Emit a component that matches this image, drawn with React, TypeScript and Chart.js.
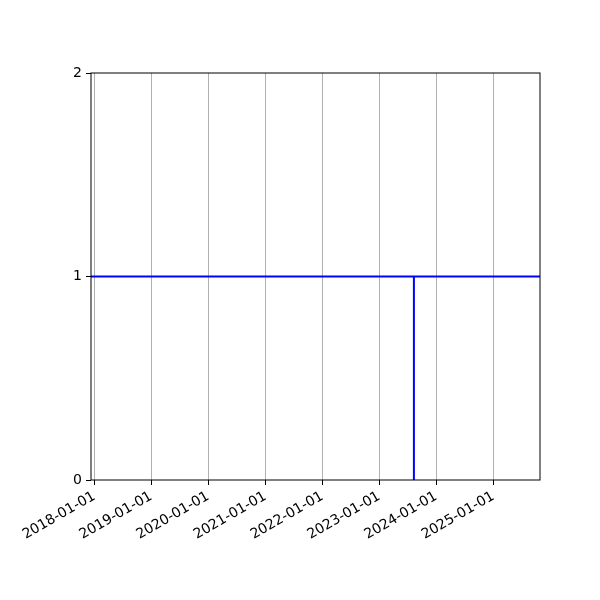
import { useEffect, useRef } from "react"
import { Chart, registerables } from "chart.js"

Chart.register(...registerables)

// x range shown and the yearly ticks
const xRange = ["2017-12-11", "2025-10-27"]
const yearTicks = ["2018-01-01", "2019-01-01", "2020-01-01", "2021-01-01", "2022-01-01", "2023-01-01", "2024-01-01", "2025-01-01"]
const yTicks = [0, 1, 2]

// level line across the whole period
const levelDates = ["2017-12-11", "2025-10-27"]
const levelValues = [1, 1]

// the drop to zero
const eventDates = ["2023-08-11", "2023-08-11"]
const eventValues = [0, 1]

const ms = (d: string) => Date.parse(d + "T00:00:00Z")
const fmt = (v: number) => new Date(v).toISOString().slice(0, 10)

// box around the plot area, like matplotlib spines
const frame = {
  id: "frame",
  afterDraw(chart: Chart) {
    const { ctx, chartArea: a } = chart
    ctx.save()
    ctx.strokeStyle = "black"
    ctx.lineWidth = 1
    ctx.strokeRect(a.left, a.top, a.right - a.left, a.bottom - a.top)
    ctx.restore()
  },
}

export default function App() {
  const chartRef = useRef<HTMLCanvasElement>(null)
  const chartInstance = useRef<Chart | null>(null)

  useEffect(() => {
    if (!chartRef.current) return
    if (chartInstance.current) chartInstance.current.destroy()
    const ctx = chartRef.current.getContext("2d")
    if (!ctx) return

    Chart.defaults.font.family = "'DejaVu Sans', sans-serif"
    Chart.defaults.font.size = 14
    Chart.defaults.color = "black"

    chartInstance.current = new Chart(ctx, {
      type: "line",
      data: {
        datasets: [
          {
            label: "level",
            data: levelDates.map((d, i) => ({ x: ms(d), y: levelValues[i] })),
            borderColor: "#0000ff",
            borderWidth: 2,
            pointRadius: 0,
            fill: false,
          },
          {
            label: "event",
            data: eventDates.map((d, i) => ({ x: ms(d), y: eventValues[i] })),
            borderColor: "#0000ff",
            borderWidth: 2,
            pointRadius: 0,
            fill: false,
          },
        ],
      },
      options: {
        animation: false,
        responsive: false,
        layout: { padding: { top: 73, right: 60, left: 0, bottom: 0 } },
        plugins: { legend: { display: false }, tooltip: { enabled: false } },
        scales: {
          x: {
            type: "linear",
            min: ms(xRange[0]),
            max: ms(xRange[1]),
            afterBuildTicks: (scale: any) => {
              scale.ticks = yearTicks.map((d) => ({ value: ms(d) }))
            },
            afterFit: (scale: any) => {
              scale.height = 120
              scale.paddingLeft = 0
              scale.paddingRight = 0
            },
            ticks: {
              autoSkip: false,
              minRotation: 30,
              maxRotation: 30,
              padding: 3,
              callback: (v: any) => fmt(Number(v)),
            },
            grid: {
              color: "#b0b0b0",
              tickColor: "black",
              tickLength: 5,
              lineWidth: 1,
            },
            border: { display: false },
          },
          y: {
            min: 0,
            max: 2,
            afterBuildTicks: (scale: any) => {
              scale.ticks = yTicks.map((v) => ({ value: v }))
            },
            afterFit: (scale: any) => {
              scale.width = 91
            },
            ticks: { padding: 4 },
            grid: {
              drawOnChartArea: false,
              tickColor: "black",
              tickLength: 5,
            },
            border: { display: false },
          },
        },
      },
      plugins: [frame],
    })

    return () => {
      if (chartInstance.current) chartInstance.current.destroy()
    }
  }, [])

  return (
    <div style={{ position: "fixed", left: 0, top: 0, width: 600, height: 600, background: "white" }}>
      <canvas ref={chartRef} width={600} height={600}></canvas>
    </div>
  )
}
